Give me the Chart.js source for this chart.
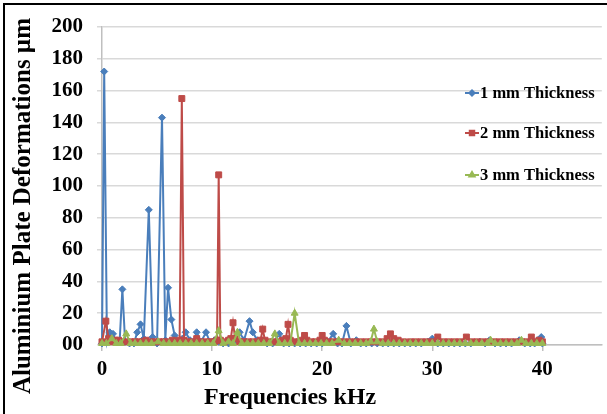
<!DOCTYPE html>
<html>
<head>
<meta charset="utf-8">
<title>Aluminium Plate Deformations</title>
<script src="https://cdn.jsdelivr.net/npm/chart.js@4.4.1/dist/chart.umd.min.js"></script>
<style>
  html, body { margin: 0; padding: 0; background: #fff; overflow: hidden; }
  #plate { display: block; }
</style>
</head>
<body>
<canvas id="plate" width="607" height="414"></canvas>
<script>
// Deformation spectra for three plate thicknesses (frequency in kHz, deformation in µm)
const seriesNames = ["1 mm Thickness", "2 mm Thickness", "3 mm Thickness"];

const freq1mm = [0, 0.2, 0.45, 0.7, 1.0, 1.3, 1.6, 1.85, 2.1, 2.5, 2.9, 3.2, 3.5, 3.8, 4.25, 4.6, 5.0, 5.45, 5.75, 6.0,
  6.3, 6.6, 7.0, 7.3, 7.6, 8.0, 8.3, 8.6, 9.0, 9.45, 9.8, 10.2, 10.6, 11.0, 11.5, 12.0, 12.5, 12.9, 13.4, 13.7,
  14.1, 14.6, 15.0, 15.5, 16.1, 16.5, 17.0, 17.5, 18.0, 18.5, 19.0, 19.5, 20.0, 20.5, 21.0, 21.4, 21.8, 22.2, 22.6, 23.1,
  23.5, 24.0, 24.5, 25.0, 25.5, 26.0, 26.5, 27.0, 27.5, 28.0, 28.5, 29.0, 29.6, 30.0, 30.5, 31.0, 31.5, 32.0, 32.5, 33.0,
  33.5, 34.3, 34.8, 35.2, 35.7, 36.2, 36.7, 37.2, 37.9, 38.4, 38.9, 39.3, 39.6, 39.9, 40.0];
const def1mm = [1, 172, 2, 8, 7, 2, 2, 35, 2, 1, 1, 8, 13, 4, 85, 5, 1, 143, 3, 36,
  16, 6, 2, 4, 8, 3, 2, 8, 2, 8, 2, 3, 2, 1, 1, 2, 8, 3, 15, 8,
  3, 2, 1, 1, 7, 1, 1, 1, 1, 1, 1, 1, 1, 2, 7, 1, 1, 12, 1, 3,
  1, 1, 1, 1, 1, 1, 1, 1, 1, 1, 1, 1, 2, 4, 1, 1, 1, 1, 1, 1,
  1, 2, 1, 3, 1, 1, 1, 1, 3, 1, 1, 1, 3, 5, 1];

const freq2mm = [0, 0.35, 0.6, 0.9, 1.2, 1.5, 1.8, 2.2, 2.6, 3.0, 3.4, 3.7, 4.0, 4.4, 4.8, 5.2, 5.6, 6.0, 6.4, 6.8,
  7.05, 7.25, 7.45, 7.8, 8.2, 8.6, 9.0, 9.4, 9.8, 10.2, 10.45, 10.6, 10.75, 11.1, 11.5, 11.7, 11.9, 12.1, 12.5, 12.9,
  13.3, 13.7, 14.1, 14.4, 14.6, 14.8, 15.2, 15.6, 16.0, 16.4, 16.7, 16.9, 17.1, 17.5, 17.9, 18.2, 18.4, 18.6, 19.0, 19.4,
  19.8, 20.0, 20.2, 20.6, 21.0, 21.5, 22.0, 22.5, 23.0, 23.5, 24.0, 24.5, 25.0, 25.5, 25.9, 26.2, 26.5, 26.9, 27.4, 28.0,
  28.5, 29.0, 29.5, 30.0, 30.5, 31.0, 31.5, 32.0, 32.5, 33.1, 33.6, 34.1, 34.6, 35.1, 35.6, 36.1, 36.6, 37.1, 37.6, 38.1,
  38.6, 39.0, 39.4, 39.7, 40.0];
const def2mm = [2, 15, 4, 2, 3, 3, 2, 2, 2, 2, 2, 2, 3, 2, 2, 2, 2, 2, 3, 2,
  3, 155, 3, 2, 2, 4, 2, 2, 2, 2, 3, 107, 3, 2, 3, 4, 14, 4, 2, 2,
  2, 2, 2, 3, 10, 3, 2, 2, 2, 3, 4, 13, 3, 2, 2, 3, 6, 3, 2, 2,
  3, 6, 3, 2, 2, 2, 2, 2, 2, 2, 2, 2, 2, 2, 4, 7, 4, 3, 2, 2,
  2, 2, 2, 2, 5, 2, 2, 2, 2, 5, 2, 2, 2, 2, 2, 2, 2, 2, 2, 2,
  2, 5, 2, 3, 2];

const freq3mm = [0, 0.4, 0.9, 1.3, 1.7, 2.2, 2.6, 3.0, 3.5, 4.0, 4.5, 5.1, 5.6, 6.1, 6.6, 7.1, 7.6, 8.1, 8.6, 9.1,
  9.6, 10.1, 10.6, 11.0, 11.5, 11.9, 12.3, 12.7, 13.2, 13.7, 14.2, 14.7, 15.2, 15.7, 16.1, 16.6, 17.1, 17.5, 17.9, 18.4,
  18.9, 19.4, 19.9, 20.4, 20.9, 21.5, 22.0, 22.5, 23.0, 23.5, 24.0, 24.4, 24.7, 25.0, 25.5, 26.0, 26.5, 27.0, 27.5, 28.0,
  28.5, 29.0, 29.5, 30.0, 30.5, 31.0, 31.5, 32.0, 32.5, 33.0, 33.5, 34.0, 34.5, 35.0, 35.3, 35.7, 36.2, 36.7, 37.2, 37.7,
  38.1, 38.5, 39.0, 39.5, 40.0];
const def3mm = [1, 1, 4, 1, 1, 7, 1, 1, 1, 1, 1, 2, 1, 1, 1, 1, 1, 1, 1, 1,
  1, 1, 9, 1, 2, 1, 8, 1, 1, 1, 1, 1, 1, 7, 1, 1, 1, 20, 1, 1,
  1, 1, 1, 1, 1, 3, 1, 1, 1, 1, 1, 2, 10, 2, 1, 1, 1, 1, 1, 1,
  1, 1, 1, 1, 1, 1, 1, 1, 1, 1, 1, 1, 1, 1, 3, 1, 1, 1, 1, 1,
  3, 1, 1, 1, 1];

const xTickValues = [0, 10, 20, 30, 40];
const yTickLabels = { 0: "00" };

const SERIF = "'Times New Roman', 'Liberation Serif', serif";
const colors = ["#4a7ebb", "#be4b48", "#98b954"];
const markers = ["rectRot", "rect", "triangle"];
const markerSize = [3.5, 4.2, 4];

function toPoints(xs, ys) {
  return xs.map((x, i) => ({ x: x, y: ys[i] }));
}

// frame, axis titles and the legend are painted straight onto the canvas
const decorations = {
  id: "decorations",
  beforeDraw(chart) {
    const ctx = chart.ctx;
    ctx.save();
    ctx.fillStyle = "#fff";
    ctx.fillRect(0, 0, chart.width, chart.height);
    ctx.strokeStyle = "#000";
    ctx.lineWidth = 2;
    ctx.beginPath();
    ctx.moveTo(4, chart.height);
    ctx.lineTo(4, 4);
    ctx.lineTo(chart.width, 4);
    ctx.stroke();
    ctx.restore();
  },
  afterDraw(chart) {
    const ctx = chart.ctx;
    ctx.save();
    ctx.fillStyle = "#000";

    // x axis title
    ctx.font = "bold 24px " + SERIF;
    ctx.textAlign = "center";
    ctx.textBaseline = "alphabetic";
    ctx.fillText("Frequencies kHz", 290, 404);

    // y axis title
    ctx.save();
    ctx.translate(30, 206);
    ctx.rotate(-Math.PI / 2);
    ctx.font = "bold 25px " + SERIF;
    ctx.fillText("Aluminium Plate Deformations µm", 0, 0);
    ctx.restore();

    // legend
    const rows = [93, 133, 175];
    ctx.font = "bold 16.5px " + SERIF;
    ctx.textAlign = "left";
    ctx.textBaseline = "middle";
    seriesNames.forEach((name, i) => {
      const y = rows[i];
      ctx.strokeStyle = colors[i];
      ctx.lineWidth = 2;
      ctx.beginPath();
      ctx.moveTo(465, y);
      ctx.lineTo(479, y);
      ctx.stroke();
      ctx.fillStyle = colors[i];
      Chart.helpers.drawPoint(ctx, {
        pointStyle: markers[i],
        radius: markerSize[i] * 0.75,
        borderWidth: 1,
        rotation: 0,
      }, 472, y);
      ctx.fillStyle = "#000";
      ctx.fillText(name, 480, y + 1);
    });
    ctx.restore();
  },
};

const allFreqs = [freq1mm, freq2mm, freq3mm];
const allDefs = [def1mm, def2mm, def3mm];

new Chart(document.getElementById("plate"), {
  type: "scatter",
  data: {
    datasets: seriesNames.map((name, i) => ({
      label: name,
      data: toPoints(allFreqs[i], allDefs[i]),
      showLine: true,
      borderColor: colors[i],
      backgroundColor: colors[i],
      borderWidth: 2,
      pointStyle: markers[i],
      pointRadius: markerSize[i],
      pointBorderWidth: 1,
      pointBorderColor: colors[i],
      pointBackgroundColor: colors[i],
      tension: 0,
      clip: false,
      order: 3 - i,
    })),
  },
  options: {
    responsive: false,
    animation: false,
    events: [],
    layout: { padding: { top: 27, right: 0, left: 0, bottom: 0 } },
    plugins: {
      legend: { display: false },
      tooltip: { enabled: false },
    },
    scales: {
      x: {
        type: "linear",
        min: 0,
        max: 45.4,
        afterBuildTicks: (scale) => {
          scale.ticks = xTickValues.map((v) => ({ value: v }));
        },
        afterFit: (scale) => {
          scale.height = 69;
        },
        ticks: {
          stepSize: 10,
          padding: 6,
          color: "#000",
          font: { family: SERIF, size: 21, weight: "bold" },
        },
        grid: {
          drawOnChartArea: false,
          drawTicks: true,
          tickLength: 6,
          color: "#bfbfbf",
          lineWidth: 1.5,
        },
        border: { display: true, color: "#bfbfbf", width: 1.5 },
      },
      y: {
        min: 0,
        max: 200,
        afterFit: (scale) => {
          scale.width = 102;
        },
        ticks: {
          stepSize: 20,
          padding: 14,
          color: "#000",
          font: { family: SERIF, size: 21, weight: "bold" },
          callback: (value) => (yTickLabels[value] !== undefined ? yTickLabels[value] : value),
        },
        grid: {
          drawTicks: true,
          tickLength: 5,
          color: "#d9d9d9",
          lineWidth: 1.5,
        },
        border: { display: true, color: "#bfbfbf", width: 1.5 },
      },
    },
  },
  plugins: [decorations],
});
</script>
</body>
</html>
